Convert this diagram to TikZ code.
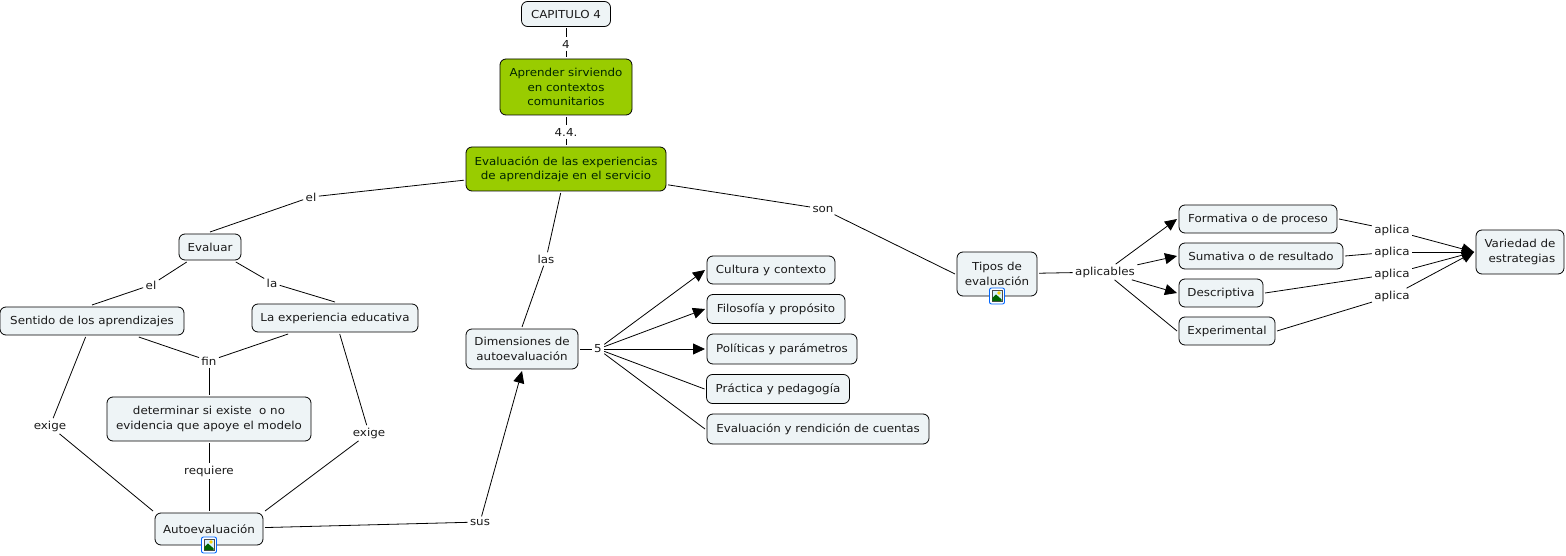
\documentclass[tikz,border=0pt]{standalone}
\usepackage{fontspec}
\setmainfont[FakeStretch=1.08]{DejaVu Sans}
\usetikzlibrary{arrows.meta,calc}

\definecolor{conceptfill}{HTML}{EEF4F6}
\definecolor{greenfill}{HTML}{99CC00}
\definecolor{textgray}{HTML}{1A1A1A}

\tikzset{
	concept/.style={draw=black,fill=conceptfill,rounded corners=6,line width=0.8,outer sep=2,inner sep=0,align=center,text=textgray,font=\fontsize{11}{14.5}\selectfont},
	greenconcept/.style={concept,fill=greenfill,text=black!85!green},
	link/.style={inner sep=2.5,outer sep=0,text=textgray,font=\fontsize{11}{12}\selectfont},
}

% image badge below a concept
\newcommand{\imgbadge}[2]{
	\node [draw=blue!60!cyan,fill=white,rounded corners=2,line width=0.9,minimum width=15,minimum height=16,inner sep=0] (#2) at (#1) {};
	\fill [cyan!15,draw=black!70,line width=0.5] ($(#2)+(-5,-5.5)$) rectangle ($(#2)+(5,5.5)$);
	\fill [green!40!black] ($(#2)+(-4.7,5.2)$) -- ($(#2)+(-4.7,2)$) -- ($(#2)+(-1,-1.5)$) -- ($(#2)+(4.7,3.5)$) -- ($(#2)+(4.7,5.2)$) -- cycle;
	\fill [yellow!70!orange] ($(#2)+(2,-3)$) circle (1.8);
}

\begin{document}
\begin{tikzpicture}[>={Triangle[length=12,width=11]},x=1pt,y=-1pt,line width=0.8]

\useasboundingbox (0,0) rectangle (1566,556);

% top of the map
\node [concept,minimum width=89,minimum height=25] (capitulo) at (566,14) {CAPITULO 4};
\node [greenconcept,minimum width=132,minimum height=56] (aprender) at (566,87) {Aprender sirviendo\\en contextos\\comunitarios};
\node [greenconcept,minimum width=200,minimum height=44] (evaluacion) at (566,169) {Evaluación de las experiencias\\de aprendizaje en el servicio};
\node [link] (l4) at (566,44) {4};
\node [link] (l44) at (566,132) {4.4.};
\node [link] (lel) at (311,197) {el};
\node [link] (lson) at (823,209) {son};
\node [link] (llas) at (546,259) {las};

% left part
\node [concept,minimum width=62,minimum height=26] (evaluar) at (210,247) {Evaluar};
\node [concept,minimum width=184,minimum height=28] (sentido) at (92,321) {Sentido de los aprendizajes};
\node [concept,minimum width=166,minimum height=28] (experiencia) at (335,318) {La experiencia educativa};
\node [concept,minimum width=204,minimum height=44] (determinar) at (209,419) {determinar si existe\ \ o no\\evidencia que apoye el modelo};
\node [concept,minimum width=108,minimum height=32] (autoevaluacion) at (209,529) {Autoevaluación};
\node [link] (lel2) at (151,285) {el};
\node [link] (lla) at (272,283) {la};
\node [link] (lfin) at (209,361) {fin};
\node [link] (lexige) at (50,426) {exige};
\node [link] (lexige2) at (369,433) {exige};
\node [link] (lrequiere) at (209,471) {requiere};
\node [link] (lsus) at (480,522) {sus};
\imgbadge{209,545}{badgeauto}

% dimensions
\node [concept,minimum width=112,minimum height=40] (dimensiones) at (522,349) {Dimensiones de\\autoevaluación};
\node [link] (l5) at (598,349) {5};
\node [concept,minimum width=128,minimum height=28] (cultura) at (771,270) {Cultura y contexto};
\node [concept,minimum width=138,minimum height=29] (filosofia) at (776,309) {Filosofía y propósito};
\node [concept,minimum width=150,minimum height=30] (politicas) at (782,349) {Políticas y parámetros};
\node [concept,minimum width=143,minimum height=29] (practica) at (778,389) {Práctica y pedagogía};
\node [concept,minimum width=222,minimum height=30] (rendicion) at (818,429) {Evaluación y rendición de cuentas};

% types of evaluation
\node [concept,minimum width=80,minimum height=44] (tipos) at (997,274) {Tipos de\\evaluación};
\node [link] (laplicables) at (1105,272) {aplicables};
\node [concept,minimum width=158,minimum height=28] (formativa) at (1258,219) {Formativa o de proceso};
\node [concept,minimum width=164,minimum height=26] (sumativa) at (1261,256) {Sumativa o de resultado};
\node [concept,minimum width=84,minimum height=28] (descriptiva) at (1221,293) {Descriptiva};
\node [concept,minimum width=96,minimum height=28] (experimental) at (1227,331) {Experimental};
\node [concept,minimum width=88,minimum height=44] (variedad) at (1520,252) {Variedad de\\\ estrategias};
\node [link] (la1) at (1392,230) {aplica};
\node [link] (la2) at (1392,252) {aplica};
\node [link] (la3) at (1392,274) {aplica};
\node [link] (la4) at (1392,296) {aplica};
\imgbadge{997,296}{badgetipos}

\path [draw]
	(capitulo) edge (l4)
	(l4) edge (aprender)
	(aprender) edge (l44)
	(l44) edge (evaluacion)
	(evaluacion)
		edge (lel)
		edge (lson)
		edge (llas)
	(lel) edge (evaluar.north)
	(lson) edge (tipos.west)
	(llas) edge (dimensiones.north)
	(evaluar)
		edge (lel2)
		edge (lla)
	(lel2) edge (sentido.north)
	(lla) edge (experiencia.north)
	(sentido)
		edge (lfin)
		edge (lexige)
	(experiencia)
		edge (lfin)
		edge (lexige2)
	(lfin) edge (determinar)
	(determinar) edge (lrequiere)
	(lrequiere) edge (autoevaluacion)
	(lexige) edge (autoevaluacion.north west)
	(lexige2) edge (autoevaluacion.north east)
	(autoevaluacion) edge (lsus)
	(dimensiones) edge (l5)
	(tipos) edge (laplicables)
	(formativa.east) edge (la1)
	(sumativa.east) edge (la2)
	(descriptiva.east) edge (la3)
	(experimental.east) edge (la4)
	(laplicables) edge (experimental.west)
	(l5)
		edge (practica.west)
		edge (rendicion.west)
;

\path [->,draw]
	(lsus) edge (dimensiones.south)
	(l5)
		edge (cultura.west)
		edge (filosofia.west)
		edge (politicas.west)
	(laplicables)
		edge (formativa.west)
		edge (sumativa.west)
		edge (descriptiva.west)
	(la1) edge (variedad.west)
	(la2) edge (variedad.west)
	(la3) edge (variedad.west)
	(la4) edge (variedad.west)
;

\end{tikzpicture}
\end{document}
